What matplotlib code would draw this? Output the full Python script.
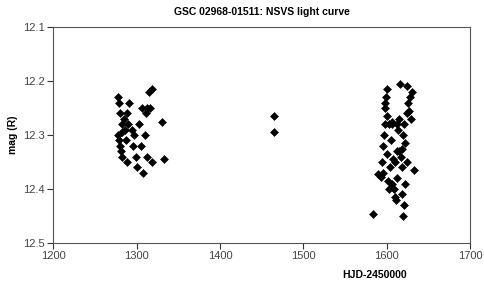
import matplotlib
matplotlib.use("Agg")
import matplotlib.pyplot as plt

# === DATA ===
hjd_season1 = [1278, 1279, 1280, 1283, 1278, 1279, 1280, 1281, 1283, 1285, 1286, 1287,
               1289, 1290, 1291, 1295, 1296, 1297, 1299, 1300, 1303, 1305, 1306, 1308,
               1310, 1311, 1312, 1313, 1315, 1316, 1318, 1318, 1330, 1333, 1282, 1288]
mag_season1 = [12.23, 12.24, 12.26, 12.28, 12.30, 12.31, 12.32, 12.33, 12.34, 12.27, 12.29, 12.31,
               12.35, 12.28, 12.24, 12.29, 12.32, 12.30, 12.34, 12.36, 12.28, 12.32, 12.25, 12.37,
               12.30, 12.26, 12.25, 12.34, 12.22, 12.25, 12.35, 12.215, 12.275, 12.345, 12.295, 12.26]

hjd_mid = [1465, 1465]
mag_mid = [12.265, 12.295]

hjd_season2 = [1584, 1590, 1593, 1595, 1596, 1597, 1598, 1598, 1599, 1600, 1600, 1601,
               1602, 1603, 1604, 1605, 1606, 1607, 1608, 1609, 1610, 1611, 1612, 1613,
               1614, 1615, 1616, 1617, 1618, 1619, 1620, 1621, 1622, 1620, 1621, 1622,
               1624, 1625, 1626, 1627, 1628, 1629, 1630, 1633, 1603, 1612, 1618, 1596,
               1606, 1598, 1610, 1615, 1624]
mag_season2 = [12.447, 12.372, 12.377, 12.35, 12.32, 12.30, 12.28, 12.25, 12.23, 12.215, 12.265, 12.335,
               12.385, 12.40, 12.36, 12.31, 12.275, 12.28, 12.345, 12.40, 12.415, 12.42, 12.38, 12.33,
               12.29, 12.27, 12.205, 12.34, 12.36, 12.41, 12.45, 12.43, 12.39, 12.30, 12.28, 12.315,
               12.35, 12.21, 12.24, 12.255, 12.23, 12.27, 12.22, 12.365, 12.28, 12.28, 12.325, 12.37,
               12.39, 12.24, 12.35, 12.33, 12.26]

x_ticks = [1200, 1300, 1400, 1500, 1600, 1700]
y_ticks = [12.1, 12.2, 12.3, 12.4, 12.5]

# === PLOT ===
plt.rcParams["font.family"] = ["Liberation Sans", "DejaVu Sans"]
fig = plt.figure(figsize=(4.84, 2.82), dpi=100, facecolor="white")
ax = fig.add_axes([0.110, 0.138, 0.861, 0.766])

for xs, ys in [(hjd_season1, mag_season1), (hjd_mid, mag_mid), (hjd_season2, mag_season2)]:
    ax.plot(xs, ys, linestyle="none", marker="D", markersize=3.8,
            color="black", markeredgewidth=0.4)

ax.set_xlim(1200, 1700)
ax.set_ylim(12.5, 12.1)
ax.set_xticks(x_ticks)
ax.set_yticks(y_ticks)
ax.set_yticklabels([f"{v:.1f}" for v in y_ticks])
ax.tick_params(axis="both", direction="out", length=4, width=0.8,
               labelsize=8, labelcolor="#444444", color="#333333", pad=2)

for s in ax.spines.values():
    s.set_color("#555555")
    s.set_linewidth(0.8)

ax.set_title("GSC 02968-01511: NSVS light curve", fontsize=7.5, fontweight="bold", pad=9)
ax.set_ylabel("mag (R)", fontsize=7.5, fontweight="bold", labelpad=4)
ax.set_xlabel("HJD-2450000", fontsize=7.5, fontweight="bold", labelpad=0)
ax.xaxis.set_label_coords(0.772, -0.125)

plt.savefig("out.png", dpi=100)
